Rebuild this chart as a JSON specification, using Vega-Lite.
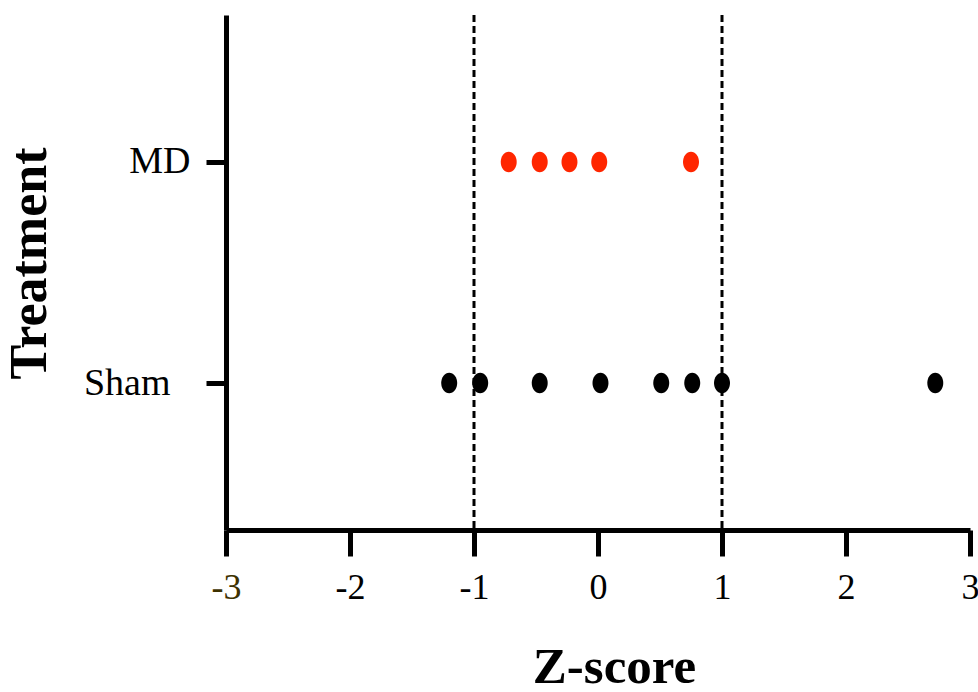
{
  "$schema": "https://vega.github.io/schema/vega-lite/v6.json",
  "width": 744,
  "height": 515,
  "autosize": {"type": "none"},
  "padding": {"left": 226, "top": 15, "right": 8, "bottom": 162},
  "background": "white",
  "config": {"view": {"stroke": null}, "font": "Liberation Serif"},
  "datasets": {
    "points": [
      {"treatment": "MD", "z": -0.72},
      {"treatment": "MD", "z": -0.47},
      {"treatment": "MD", "z": -0.23},
      {"treatment": "MD", "z": 0.01},
      {"treatment": "MD", "z": 0.75},
      {"treatment": "Sham", "z": -1.2},
      {"treatment": "Sham", "z": -0.95},
      {"treatment": "Sham", "z": -0.47},
      {"treatment": "Sham", "z": 0.02},
      {"treatment": "Sham", "z": 0.51},
      {"treatment": "Sham", "z": 0.76},
      {"treatment": "Sham", "z": 1.0},
      {"treatment": "Sham", "z": 2.72}
    ],
    "refs": [{"z": -1}, {"z": 1}]
  },
  "encoding": {
    "x": {
      "field": "z",
      "type": "quantitative",
      "scale": {"domain": [-3, 3], "nice": false, "zero": false},
      "axis": {
        "title": "Z-score",
        "titleFont": "Liberation Serif",
        "titleFontSize": 51,
        "titleFontWeight": "bold",
        "titleColor": "black",
        "titleX": 388,
        "titleY": 152,
        "titleBaseline": "alphabetic",
        "titleAlign": "center",
        "values": [-3, -2, -1, 0, 1, 2, 3],
        "labelExpr": "'' + datum.value",
        "labelFont": "Liberation Serif",
        "labelFontSize": 36,
        "labelColor": {"condition": {"test": "datum.value == -3", "value": "#3d3100"}, "value": "black"},
        "labelPadding": 14,
        "labelFlush": false,
        "labelOverlap": false,
        "tickSize": 26,
        "tickWidth": 5,
        "tickColor": "black",
        "domainColor": "black",
        "domainWidth": 5,
        "grid": false
      }
    }
  },
  "layer": [
    {
      "data": {"name": "refs"},
      "mark": {"type": "rule", "strokeDash": [7, 4], "strokeWidth": 3, "color": "black"},
      "encoding": {}
    },
    {
      "data": {"name": "points"},
      "mark": {
        "type": "point",
        "filled": true,
        "opacity": 1,
        "size": 420,
        "shape": "M -0.78 0 A 0.78 1 0 1 0 0.78 0 A 0.78 1 0 1 0 -0.78 0 Z"
      },
      "encoding": {
        "y": {
          "field": "treatment",
          "type": "nominal",
          "sort": ["MD", "Sham"],
          "scale": {"type": "point", "padding": 0.665},
          "axis": {
            "title": "Treatment",
            "titleFont": "Liberation Serif",
            "titleFontSize": 52,
            "titleFontWeight": "bold",
            "titleColor": "black",
            "titleX": -181,
            "titleY": 248,
            "titleAngle": -90,
            "titleBaseline": "alphabetic",
            "titleAlign": "center",
            "labelFont": "Liberation Serif",
            "labelFontSize": 38,
            "labelColor": "black",
            "labelPadding": {"condition": {"test": "datum.value == 'Sham'", "value": 36}, "value": 16},
            "tickSize": 20,
            "tickWidth": 5,
            "tickColor": "black",
            "domainColor": "black",
            "domainWidth": 5,
            "grid": false
          }
        },
        "color": {
          "field": "treatment",
          "type": "nominal",
          "scale": {"domain": ["MD", "Sham"], "range": ["#ff2600", "#000000"]},
          "legend": null
        }
      }
    }
  ]
}
